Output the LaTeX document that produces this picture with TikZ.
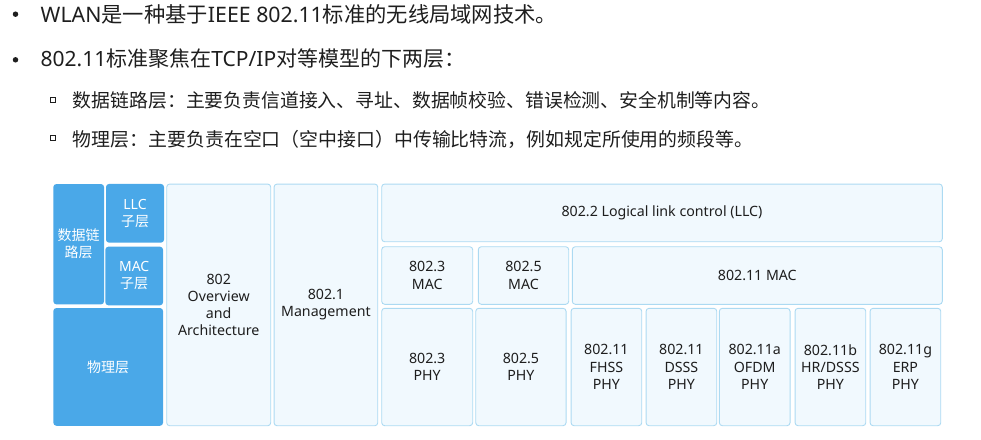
\documentclass[tikz,border=0pt]{standalone}
\usepackage{fontspec}
\setmainfont{Noto Sans}
\newfontfamily\cjk{Noto Sans CJK SC}
\definecolor{layerblue}{RGB}{74,168,232}
\definecolor{stdfill}{RGB}{241,249,254}
\definecolor{stdline}{RGB}{172,218,242}
\definecolor{txtgray}{RGB}{30,30,30}

\begin{document}
\begin{tikzpicture}[x=1pt, y=-1pt,
    layer/.style={rectangle, rounded corners=3pt, fill=layerblue, text=white, align=center, inner sep=0pt, font=\cjk\fontsize{14}{17}\selectfont},
    std/.style={rectangle, rounded corners=3pt, fill=stdfill, draw=stdline, line width=0.9pt, text=txtgray, align=center, inner sep=0pt, font=\fontsize{14.2}{17.3}\selectfont},
    dot/.style={circle, fill=txtgray, inner sep=0pt, minimum size=5.5pt},
    square/.style={rectangle, draw=txtgray, line width=1pt, inner sep=0pt, minimum size=5pt},
    line/.style={anchor=west, inner sep=0pt, text=txtgray}]
    \useasboundingbox (0,0) rectangle (981,439);

    % Bullet text
    \node[dot] (b1) at (15.5,14.2) {};
    \node[line, font=\fontsize{21.3}{25}\selectfont] (t1) at (40.5,14) {WLAN{\cjk 是一种基于}IEEE 802.11{\cjk 标准的无线局域网技术。}};
    \node[dot] (b2) at (15.5,59.8) {};
    \node[line, font=\fontsize{21}{25}\selectfont] (t2) at (40.5,59) {802.11{\cjk 标准聚焦在}TCP/IP{\cjk 对等模型的下两层：}};
    \node[square] (s1) at (52.5,99.5) {};
    \node[line, font=\cjk\fontsize{18.85}{22}\selectfont] (t3) at (72.7,100) {数据链路层：主要负责信道接入、寻址、数据帧校验、错误检测、安全机制等内容。};
    \node[square] (s2) at (52.5,138) {};
    \node[line, font=\cjk\fontsize{18.9}{22}\selectfont] (t4) at (72.7,139) {物理层：主要负责在空口（空中接口）中传输比特流，例如规定所使用的频段等。};

    % Layers
    \node[layer, minimum width=50.7, minimum height=120.3] (DLL) at (78.7,244.2) {数据链\\路层};
    \node[layer, minimum width=58, minimum height=58.7] (LLC) at (135,213.3) {{\normalfont LLC}\\子层};
    \node[layer, minimum width=57.7, minimum height=58.6] (MAC) at (134.2,276) {{\normalfont MAC}\\子层};
    \node[layer, minimum width=109.7, minimum height=117.7] (PHY) at (108.2,366.9) {物理层};

    % Standards
    \node[std, minimum width=104, minimum height=241.7] (OVW) at (218.7,304.9) {802\\Overview\\and\\Architecture};
    \node[std, minimum width=103.7, minimum height=241.7] (MGMT) at (325.9,304.9) {802.1\\Management};
    \node[std, minimum width=560.6, minimum height=57.7] (LLCBAR) at (662,212.9) {802.2 Logical link control (LLC)};

    % MAC row
    \node[std, minimum width=91, minimum height=57.6] (MAC3) at (427.2,275.5) {802.3\\MAC};
    \node[std, minimum width=90.4, minimum height=57.6] (MAC5) at (523.5,275.5) {802.5\\MAC};
    \node[std, minimum width=370, minimum height=57.6] (MAC11) at (757.3,275.5) {802.11 MAC};

    % PHY row
    \node[std, minimum width=91, minimum height=117.4] (PHY3) at (427.2,367) {802.3\\PHY};
    \node[std, minimum width=90.3, minimum height=117.4] (PHY5) at (520.9,367) {802.5\\PHY};
    \node[std, minimum width=70.7, minimum height=117.4] (FHSS) at (606.4,367) {802.11\\FHSS\\PHY};
    \node[std, minimum width=70.7, minimum height=117.4] (DSSS) at (681.4,367) {802.11\\DSSS\\PHY};
    \node[std, minimum width=70.7, minimum height=117.4] (OFDM) at (754.7,367) {802.11a\\OFDM\\PHY};
    \node[std, minimum width=70.7, minimum height=117.4] (HRDSSS) at (830.4,367) {802.11b\\HR/DSSS\\PHY};
    \node[std, minimum width=70.7, minimum height=117.4] (ERP) at (905.4,367) {802.11g\\ERP\\PHY};
\end{tikzpicture}
\end{document}
